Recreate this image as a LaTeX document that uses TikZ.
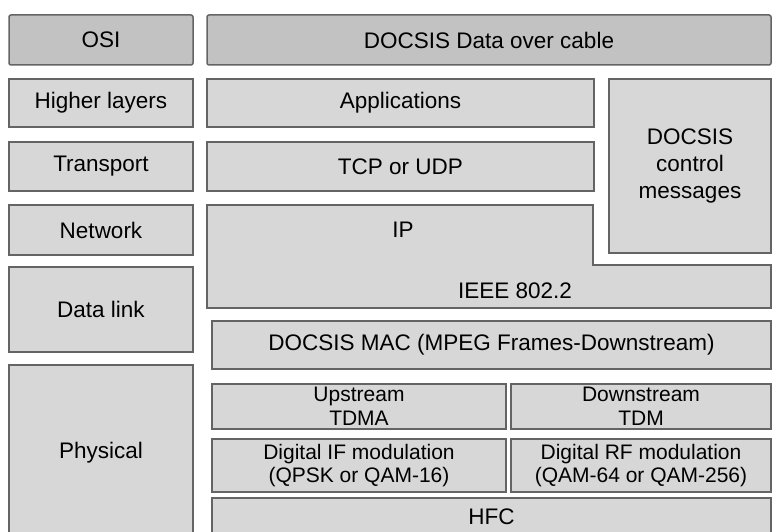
\documentclass[tikz,border=0pt]{standalone}
\usepackage{fontspec}
\setmainfont{Liberation Sans}
\definecolor{headgray}{RGB}{194,194,194}
\definecolor{boxgray}{RGB}{215,215,215}
\definecolor{edgegray}{RGB}{100,100,100}
\tikzset{
    layer/.style={draw=edgegray, line width=1.5pt, fill=boxgray, inner sep=0pt,
        align=center, font=\fontsize{22.5}{27}\selectfont},
    header/.style={layer, fill=headgray, rounded corners=2pt},
    small/.style={layer, font=\fontsize{21}{23.5}\selectfont}
}
\begin{document}
\begin{tikzpicture}[x=1pt, y=-1pt]
        \clip (0,0) rectangle (772,532);
        \fill[white] (0,0) rectangle (772,532);
        \node[header, minimum width=184pt, minimum height=50pt] (OSI) at (101,40) {OSI};
        \node[header, minimum width=564pt, minimum height=50pt] (DOC) at (489,40) {DOCSIS Data over cable};
        \node[layer, minimum width=184pt, minimum height=48pt] (HL) at (101,103) {Higher layers};
        \node[layer, minimum width=387pt, minimum height=48pt] (APP) at (400.5,103) {Applications};
        \node[layer, minimum width=184pt, minimum height=49pt] (TR) at (101,166.5) {Transport};
        \node[layer, minimum width=387pt, minimum height=49pt] (TCP) at (400.5,166.5) {TCP or UDP};
        \node[layer, minimum width=162pt, minimum height=174pt] (CTL) at (690,166) {DOCSIS\\control\\messages};
        \node[layer, minimum width=184pt, minimum height=50pt] (NW) at (101,230) {Network};
        \node[layer, minimum width=184pt, minimum height=85pt] (DL) at (101,309.5) {Data link};
        \node[layer, minimum width=184pt, minimum height=176pt] (PHY) at (101,453) {Physical};
        \filldraw[fill=boxgray, draw=edgegray, line width=1.5pt]
            (207,205) -- (593,205) -- (593,265) -- (771,265) -- (771,308) -- (207,308) -- cycle;
        \node[font=\fontsize{22.5}{27}\selectfont] (IP) at (403,230) {IP};
        \node[font=\fontsize{22.5}{27}\selectfont] (IEEE) at (515,291) {IEEE 802.2};
        \node[layer, minimum width=559pt, minimum height=48pt] (MAC) at (491.5,345) {DOCSIS MAC (MPEG Frames-Downstream)};
        \node[small, minimum width=294pt, minimum height=45pt] (UP) at (359,406.5) {Upstream\\TDMA};
        \node[small, minimum width=260pt, minimum height=45pt] (DOWN) at (641,406.5) {Downstream\\TDM};
        \node[small, minimum width=294pt, minimum height=53pt] (IF) at (359,465.5) {Digital IF modulation\\(QPSK or QAM-16)};
        \node[small, minimum width=260pt, minimum height=53pt] (RF) at (641,465.5) {Digital RF modulation\\(QAM-64 or QAM-256)};
        \node[layer, minimum width=559pt, minimum height=38pt] (HFC) at (491.5,517) {HFC};
    \end{tikzpicture}
\end{document}
